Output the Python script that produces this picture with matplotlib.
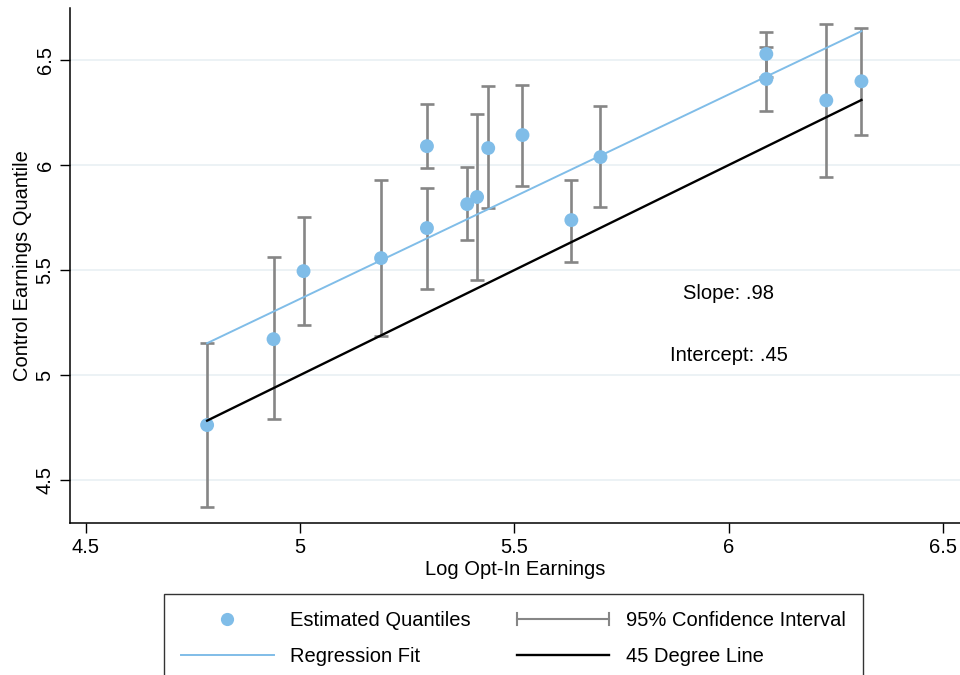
import matplotlib
matplotlib.use("Agg")
import matplotlib.pyplot as plt
from matplotlib.lines import Line2D
from matplotlib.legend_handler import HandlerBase
import numpy as np

plt.rcParams['font.family'] = ['Liberation Sans', 'DejaVu Sans']

# Data
opt_in = [4.783, 4.938, 5.008, 5.189, 5.296, 5.296, 5.390, 5.413, 5.439,
          5.519, 5.633, 5.701, 6.088, 6.088, 6.228, 6.310]
control = [4.762, 5.171, 5.495, 5.557, 6.090, 5.700, 5.814, 5.848, 6.081,
           6.143, 5.738, 6.038, 6.529, 6.410, 6.308, 6.399]
ci_low = [4.371, 4.790, 5.238, 5.186, 5.986, 5.410, 5.643, 5.452, 5.795,
          5.900, 5.538, 5.800, 6.419, 6.257, 5.944, 6.144]
ci_high = [5.152, 5.562, 5.752, 5.929, 6.290, 5.890, 5.990, 6.243, 6.376,
           6.381, 5.929, 6.281, 6.633, 6.562, 6.671, 6.651]
fit_slope = 0.973
fit_intercept = 0.498
slope_label = "Slope: .98"
intercept_label = "Intercept: .45"
xticks = [4.5, 5, 5.5, 6, 6.5]
yticks = [4.5, 5, 5.5, 6, 6.5]
xtick_labels = ["4.5", "5", "5.5", "6", "6.5"]
ytick_labels = ["4.5", "5", "5.5", "6", "6.5"]

blue = "#80bde8"
gray = "#868686"
FS = 14.5

fig = plt.figure(figsize=(9.6, 6.75), dpi=100)
ax = fig.add_axes([70/960, 1-522.7/675, 1-70/960, (522.7-8)/675])

x = np.array(opt_in)
y = np.array(control)
lo = np.array(ci_low)
hi = np.array(ci_high)

ax.errorbar(x, (lo+hi)/2, yerr=[(hi-lo)/2, (hi-lo)/2], fmt='none',
            ecolor=gray, elinewidth=1.9, capsize=5, capthick=1.9, zorder=2)
ax.scatter(x, y, s=100, color=blue, edgecolors='none', zorder=3)
xr = np.array([x.min(), x.max()])
ax.plot(xr, fit_intercept + fit_slope*xr, color=blue, lw=1.4, zorder=4)
ax.plot(xr, xr, color='black', lw=1.7, zorder=4)

ax.text(6.0, 5.39, slope_label, ha='center', va='center', fontsize=FS)
ax.text(6.0, 5.095, intercept_label, ha='center', va='center', fontsize=FS)

ax.set_xlim(4.463, 6.54)
ax.set_ylim(4.297, 6.748)
ax.set_xticks(xticks)
ax.set_xticklabels(xtick_labels)
ax.set_yticks(yticks)
ax.set_yticklabels(ytick_labels, rotation=90, va='center')
ax.tick_params(axis='both', length=7, width=1, labelsize=FS, pad=4)
ax.yaxis.grid(True, color='#e9f0f3', lw=1.2)
ax.set_axisbelow(True)
for s in ['top', 'right']:
    ax.spines[s].set_visible(False)
for s in ['left', 'bottom']:
    ax.spines[s].set_linewidth(1.1)

ax.set_xlabel("Log Opt-In Earnings", fontsize=FS, labelpad=2)
ax.set_ylabel("Control Earnings Quantile", fontsize=FS, labelpad=3)


class CIHandle:
    pass


class HandlerCI(HandlerBase):
    def create_artists(self, legend, orig_handle, xdescent, ydescent,
                       width, height, fontsize, trans):
        yc = height / 2 - ydescent
        x0, x1 = -xdescent, -xdescent + width
        cap = height * 0.45
        artists = [
            Line2D([x0, x1], [yc, yc], color=gray, lw=1.5),
            Line2D([x0, x0], [yc - cap, yc + cap], color=gray, lw=1.5),
            Line2D([x1, x1], [yc - cap, yc + cap], color=gray, lw=1.5),
        ]
        for a in artists:
            a.set_transform(trans)
        return artists


handles = [
    Line2D([], [], ls='none', marker='o', ms=9.5, color=blue, mec='none'),
    Line2D([], [], color=blue, lw=1.4),
    CIHandle(),
    Line2D([], [], color='black', lw=1.7),
]
labels = ["Estimated Quantiles", "Regression Fit",
          "95% Confidence Interval", "45 Degree Line"]
leg = fig.legend(handles, labels, ncol=2, loc='upper left',
                 bbox_to_anchor=(164/960, 1-594/675), fontsize=FS,
                 frameon=True, fancybox=False, edgecolor='black',
                 handlelength=4.6, handletextpad=0.8, columnspacing=2.3,
                 labelspacing=0.85, borderpad=0.85, borderaxespad=0,
                 handler_map={CIHandle: HandlerCI()})
leg.get_frame().set_linewidth(1.0)

fig.savefig("out.png", dpi=100)
